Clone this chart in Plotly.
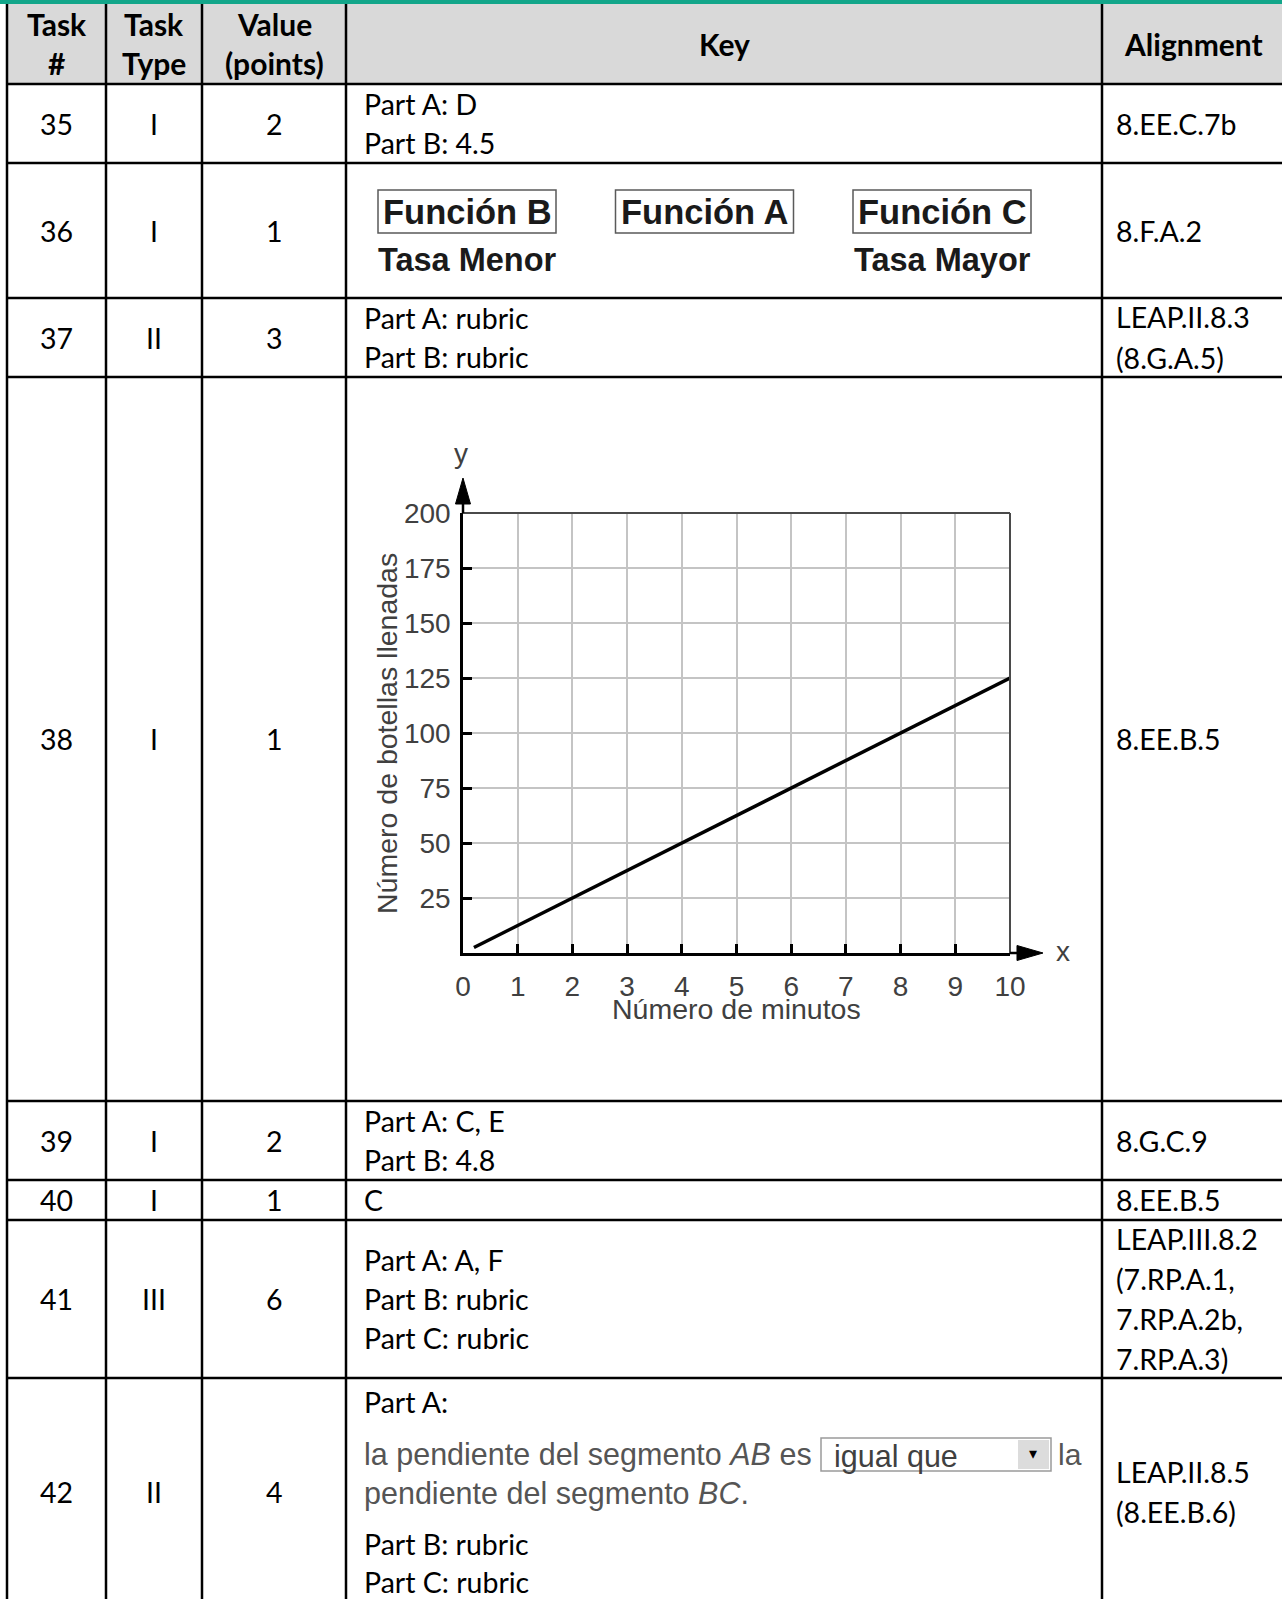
import plotly.graph_objects as go

W, H = 1282, 1599

# ---- table data ----
task_num = ["35", "36", "37", "38", "39", "40", "41", "42"]
task_type = ["I", "I", "II", "I", "I", "I", "III", "II"]
task_value = ["2", "1", "3", "1", "2", "1", "6", "4"]
key_lines = [
    ["Part A: D", "Part B: 4.5"],
    [],
    ["Part A: rubric", "Part B: rubric"],
    [],
    ["Part A: C, E", "Part B: 4.8"],
    ["C"],
    ["Part A: A, F", "Part B: rubric", "Part C: rubric"],
    [],
]
alignment = [
    ["8.EE.C.7b"],
    ["8.F.A.2"],
    ["LEAP.II.8.3", "(8.G.A.5)"],
    ["8.EE.B.5"],
    ["8.G.C.9"],
    ["8.EE.B.5"],
    ["LEAP.III.8.2", "(7.RP.A.1,", "7.RP.A.2b,", "7.RP.A.3)"],
    ["LEAP.II.8.5", "(8.EE.B.6)"],
]
headers = ["Task<br>#", "Task<br>Type", "Value<br>(points)", "Key", "Alignment"]

# row 36 / row 42 contents
funciones = ["Función B", "Función A", "Función C"]
tasas = ["Tasa Menor", "", "Tasa Mayor"]
row42_key = ["Part A:", "Part B: rubric", "Part C: rubric"]
dropdown_choice = "igual que"

# ---- chart data (task 38) ----
minutos = [0.2, 2, 4, 6, 8, 10]
botellas = [2.5, 25, 50, 75, 100, 125]
x_ticks = [0, 1, 2, 3, 4, 5, 6, 7, 8, 9, 10]
y_ticks = [25, 50, 75, 100, 125, 150, 175, 200]

# ---- geometry (pixels) ----
col_edges = [7, 106, 202, 346, 1102, 1300]
row_edges = [4, 84, 163, 298, 377, 1101, 1180, 1220, 1378, 1606]
LINE = 39
# plot area of the embedded chart
PX0, PX1, PY0, PY1 = 463, 1010, 953, 513


def px(x):
    return x / W


def py(y):
    return 1 - y / H


TFONT = "Lato"
CFONT = "Liberation Sans"
shapes = []
ann = []


def text(x, y, s, size=28.5, anchor="center", font=TFONT, color="#000", **kw):
    ann.append(dict(x=px(x), y=py(y), xref="paper", yref="paper", text=s,
                    showarrow=False, xanchor=anchor, yanchor="middle",
                    font=dict(family=font, size=size, color=color), **kw))


def rect(x0, y0, x1, y1, fill=None, line=None, lw=0, layer="above"):
    shapes.append(dict(type="rect", xref="paper", yref="paper",
                       x0=px(x0), x1=px(x1), y0=py(y0), y1=py(y1),
                       fillcolor=fill or "rgba(0,0,0,0)",
                       line=dict(color=line or "rgba(0,0,0,0)", width=lw),
                       layer=layer))


def seg(x0, y0, x1, y1, color="#000", lw=2.5):
    shapes.append(dict(type="line", xref="paper", yref="paper",
                       x0=px(x0), x1=px(x1), y0=py(y0), y1=py(y1),
                       line=dict(color=color, width=lw)))


def tri(pts, color="#000"):
    path = "M" + " L".join(f"{px(a):.5f},{py(b):.5f}" for a, b in pts) + " Z"
    shapes.append(dict(type="path", xref="paper", yref="paper", path=path,
                       fillcolor=color, line=dict(color=color, width=1)))


# header band and green rule
rect(col_edges[0], row_edges[0], W, row_edges[1], fill="#d9d9d9", layer="below")
rect(0, 0, W, 4, fill="#12a68a")

# grid of table
for y in row_edges[1:]:
    seg(col_edges[0], y, W, y)
for x in col_edges[:5]:
    seg(x, row_edges[0], x, H)

# header text
hy = (row_edges[0] + row_edges[1]) / 2
for i, h in enumerate(headers):
    cx = (col_edges[i] + col_edges[i + 1]) / 2
    if i == 4:
        cx = 1193
    lines = h.split("<br>")
    for j, ln in enumerate(lines):
        yy = hy + (j - (len(lines) - 1) / 2) * LINE
        text(cx, yy, "<b>" + ln + "</b>", size=30)

# body
for r in range(8):
    cy = (row_edges[r + 1] + row_edges[r + 2]) / 2
    for c, vals in enumerate([task_num, task_type, task_value]):
        cx = (col_edges[c] + col_edges[c + 1]) / 2
        text(cx, cy, vals[r])
    kl = key_lines[r]
    for j, ln in enumerate(kl):
        text(362, cy + (j - (len(kl) - 1) / 2) * LINE, ln, anchor="left")
    al = alignment[r]
    for j, ln in enumerate(al):
        text(1114, cy + (j - (len(al) - 1) / 2) * 40, ln, anchor="left")

# row 36: function boxes
for i, (f, t) in enumerate(zip(funciones, tasas)):
    cx = 467 + i * 237.5
    rect(cx - 89, 190, cx + 89, 233, line="#5a5a5a", lw=1.5)
    text(cx, 212, "<b>" + f + "</b>", size=34.5, font=CFONT, color="#1a1a1a")
    if t:
        text(cx, 260, "<b>" + t + "</b>", size=32.5, font=CFONT, color="#1a1a1a")

# row 42: key with dropdown
text(362, 1402, row42_key[0], anchor="left")
text(362, 1544, row42_key[1], anchor="left")
text(362, 1582, row42_key[2], anchor="left")
grey = "#555555"
text(362, 1454, "la pendiente del segmento <i>AB</i> es", size=30.5, font=CFONT,
     color=grey, anchor="left")
text(1056, 1454, "la", size=30, font=CFONT, color=grey, anchor="left")
text(362, 1493, "pendiente del segmento <i>BC</i>.", size=30.5, font=CFONT,
     color=grey, anchor="left")
rect(1018, 1440, 1049, 1469, fill="#dcdcdc")
rect(821, 1438, 1051, 1471, line="#9a9a9a", lw=1.5)
text(832, 1456, dropdown_choice, size=30.5, font=CFONT, color="#404040", anchor="left")
text(1033, 1453, "▾", size=16, font=CFONT, color="#000")

# ---- chart ----
fig = go.Figure(go.Scatter(x=minutos, y=botellas, mode="lines",
                           line=dict(color="#000", width=3.5),
                           hoverinfo="skip", showlegend=False))

axis_common = dict(showgrid=True, gridcolor="#c4c4c4", gridwidth=1.5,
                   showline=True, linecolor="#000", linewidth=2.5,
                   ticks="inside", ticklen=9, tickwidth=3, tickcolor="#000",
                   tickfont=dict(family=CFONT, size=28, color="#404040"),
                   zeroline=False, fixedrange=True, automargin=False)

# top / right frame of the plot
seg(PX0, PY1, PX1, PY1, color="#4a4a4a", lw=2)
seg(PX1, PY1, PX1, PY0, color="#4a4a4a", lw=2)

# axis arrows
seg(PX0, PY1, PX0, PY1 - 11)
tri([(PX0, PY1 - 35), (PX0 - 7.5, PY1 - 9), (PX0 + 7.5, PY1 - 9)])
seg(PX1, PY0, PX1 + 9, PY0)
tri([(PX1 + 33, PY0), (PX1 + 7, PY0 - 7.5), (PX1 + 7, PY0 + 7.5)])

text(461, 453, "y", size=28, font=CFONT, color="#404040")
text(1063, 951, "x", size=28, font=CFONT, color="#404040")
text(387, 734, "Número de botellas llenadas", size=28.5, font=CFONT,
     color="#404040", textangle=-90)
text(736, 1009, "Número de minutos", size=28.5, font=CFONT, color="#404040")

fig.update_layout(
    width=W, height=H,
    margin=dict(l=0, r=0, t=0, b=0, pad=0, autoexpand=False),
    paper_bgcolor="#ffffff", plot_bgcolor="rgba(0,0,0,0)",
    xaxis=dict(domain=[px(PX0), px(PX1)], range=[0, 10], tickvals=x_ticks,
               ticklabelstandoff=7, **axis_common),
    yaxis=dict(domain=[py(PY0), py(PY1)], range=[0, 200], tickvals=y_ticks,
               ticklabelstandoff=4, **axis_common),
    shapes=shapes, annotations=ann, showlegend=False,
)

no_body_margin = ("document.body.style.margin='0';"
                  "document.body.style.overflow='hidden';")
fig.write_html("out.html", config={"displayModeBar": False},
               post_script=no_body_margin)
